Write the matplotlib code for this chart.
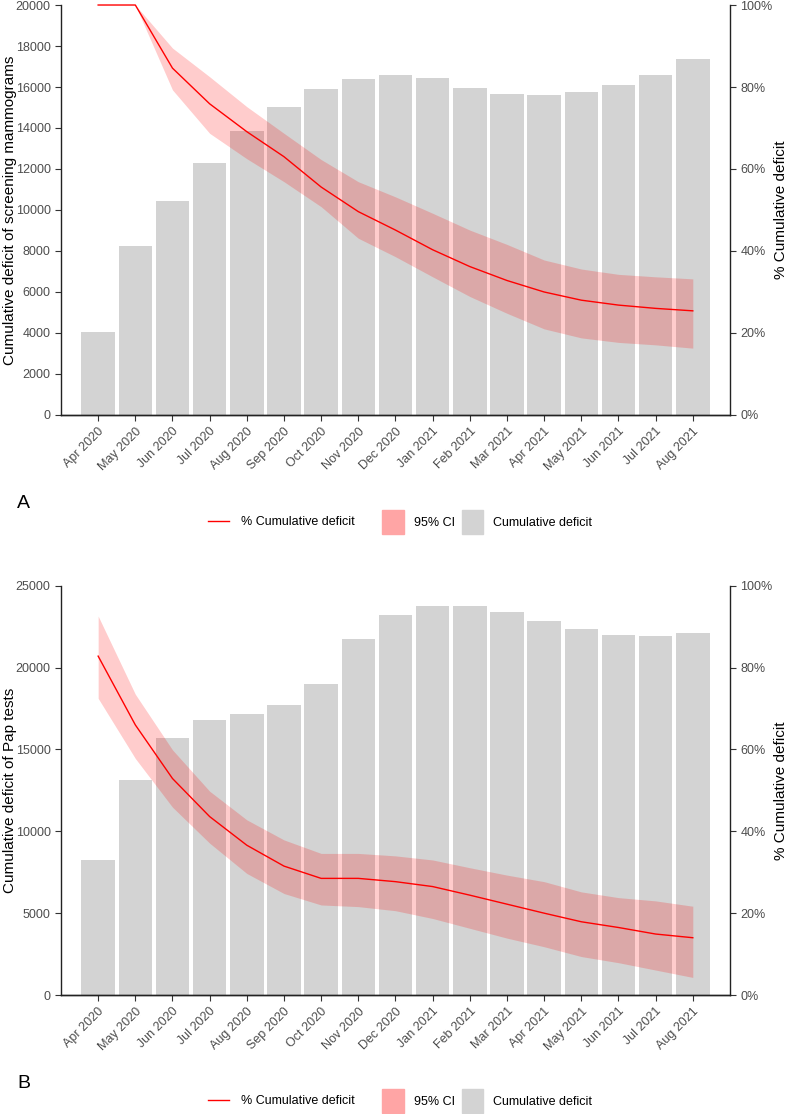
import matplotlib.pyplot as plt
import matplotlib.lines as mlines
import matplotlib.patches as mpatches
from matplotlib.ticker import FuncFormatter

plt.rcParams['font.family'] = ['Liberation Sans', 'DejaVu Sans']

months = ['Apr 2020', 'May 2020', 'Jun 2020', 'Jul 2020', 'Aug 2020', 'Sep 2020',
          'Oct 2020', 'Nov 2020', 'Dec 2020', 'Jan 2021', 'Feb 2021', 'Mar 2021',
          'Apr 2021', 'May 2021', 'Jun 2021', 'Jul 2021', 'Aug 2021']

# panel A - screening mammograms
mammo_deficit = [4050, 8250, 10450, 12300, 13850, 15030, 15890, 16400, 16580,
                 16440, 15940, 15670, 15620, 15760, 16100, 16600, 17350]
mammo_pct = [100, 100, 84.6, 75.9, 69.1, 63.0, 55.6, 49.6, 45.1, 40.3, 36.2,
             32.8, 30.0, 28.0, 26.8, 26.0, 25.4]
mammo_hi = [100, 100, 89.5, 82.5, 75.2, 68.7, 62.3, 56.9, 53.2, 49.2, 45.1,
            41.6, 37.8, 35.6, 34.3, 33.7, 33.2]
mammo_lo = [100, 100, 79.3, 68.7, 62.5, 56.9, 50.8, 43.1, 38.6, 33.7, 28.9,
            24.8, 21.0, 18.8, 17.7, 17.1, 16.3]

# panel B - Pap tests
pap_deficit = [8230, 13130, 15700, 16780, 17160, 17690, 19000, 21720, 23210,
               23780, 23760, 23370, 22840, 22330, 22010, 21910, 22090]
pap_pct = [82.8, 66.0, 52.9, 43.6, 36.6, 31.5, 28.5, 28.5, 27.7, 26.5, 24.4,
           22.2, 20.0, 17.9, 16.5, 14.9, 14.0]
pap_hi = [92.6, 73.5, 59.9, 49.8, 42.8, 37.9, 34.6, 34.6, 34.0, 33.0, 31.1,
          29.3, 27.7, 25.2, 23.8, 23.0, 21.7]
pap_lo = [72.5, 57.8, 45.9, 37.1, 29.7, 24.8, 22.0, 21.6, 20.6, 18.7, 16.3,
          13.9, 11.8, 9.4, 7.9, 6.1, 4.3]

TICK_COL = '#4D4D4D'


def draw_panel(fig, rect, deficit, pct, hi, lo, ymax, ystep, ylabel, letter, letter_y, leg_y):
    ax = fig.add_axes(rect)
    x = list(range(len(months)))
    ax.bar(x, deficit, width=0.9, color='#D3D3D3', zorder=1)
    ax.set_xlim(-1, len(months))
    ax.set_ylim(0, ymax)
    ax.set_yticks(range(0, ymax + 1, ystep))
    ax.set_xticks(x)
    ax.set_xticklabels(months, rotation=45, ha='right', rotation_mode='anchor')
    ax.set_ylabel(ylabel, fontsize=11)
    ax.yaxis.set_label_coords(-0.066, 0.5)
    for s in ['top', 'right']:
        ax.spines[s].set_visible(False)

    ax2 = ax.twinx()
    ax2.fill_between(x, lo, hi, color='red', alpha=0.2, linewidth=0)
    ax2.plot(x, pct, color='red', linewidth=1.0, clip_on=False)
    ax2.set_ylim(0, 100)
    ax2.set_yticks(range(0, 101, 20))
    ax2.yaxis.set_major_formatter(FuncFormatter(lambda v, p: f'{v:.0f}%'))
    ax2.set_ylabel('% Cumulative deficit', fontsize=11)
    ax2.yaxis.set_label_coords(1.066, 0.5)
    for s in ['top', 'left']:
        ax2.spines[s].set_visible(False)

    for a in (ax, ax2):
        for s in a.spines.values():
            s.set_linewidth(1.0)
            s.set_color('#222222')
        a.tick_params(labelsize=9, colors=TICK_COL, length=4, width=0.8)
        a.tick_params(axis='both', color='#333333')

    fig.text(0.022, letter_y, letter, fontsize=14, ha='left', va='center')

    # ggplot-like legend: line key on its own, the two fill keys packed together
    fig.legend([mlines.Line2D([], [], color='red', linewidth=1.0)],
               ['% Cumulative deficit'], loc='center',
               bbox_to_anchor=(0.356, leg_y), frameon=False, fontsize=9,
               handlelength=1.7, handletextpad=0.9)
    fig.legend([mpatches.Patch(color='#FFA5A5'), mpatches.Patch(color='#D3D3D3')],
               ['95% CI', 'Cumulative deficit'], loc='center', ncol=2,
               bbox_to_anchor=(0.617, leg_y), frameon=False, fontsize=9,
               handlelength=1.7, handleheight=2.6, handletextpad=0.8,
               columnspacing=0.6)
    return ax, ax2


fig = plt.figure(figsize=(7.9, 11.14), dpi=100)

draw_panel(fig, [0.0772, 0.6275, 0.8468, 0.368], mammo_deficit, mammo_pct,
           mammo_hi, mammo_lo, 20000, 2000,
           'Cumulative deficit of screening mammograms', 'A', 1 - 503 / 1114, 1 - 522 / 1114)
draw_panel(fig, [0.0772, 0.1068, 0.8468, 0.3674], pap_deficit, pap_pct,
           pap_hi, pap_lo, 25000, 5000,
           'Cumulative deficit of Pap tests', 'B', 1 - 1084 / 1114, 1 - 1101 / 1114)

fig.savefig('out.png', dpi=100)
